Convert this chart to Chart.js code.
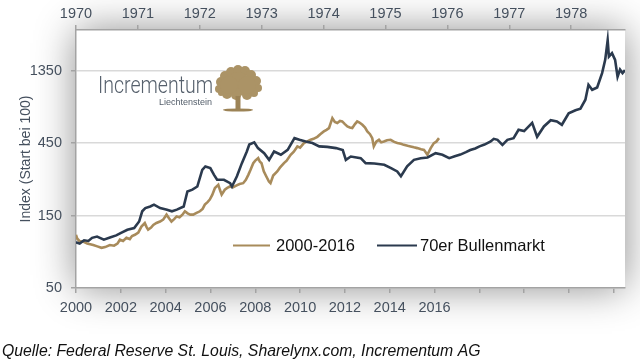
<!DOCTYPE html>
<html>
<head>
<meta charset="utf-8">
<script src="https://cdn.jsdelivr.net/npm/chart.js@4.4.1/dist/chart.umd.min.js"></script>
<style>
html, body { margin: 0; padding: 0; background: #fff; }
#wrap { width: 640px; height: 360px; }
</style>
</head>
<body>
<div id="wrap"><canvas id="chart" width="640" height="360"></canvas></div>
<script>
// Gold 2000-2016 (bottom axis, index start = 100)
const goldYears = [
  2000.00, 2000.05, 2000.15, 2000.32, 2000.50, 2000.77, 2000.95, 2001.14, 2001.30, 2001.51,
  2001.70, 2001.85, 2001.96, 2002.10, 2002.25, 2002.40, 2002.50, 2002.63, 2002.78, 2002.92,
  2003.07, 2003.15, 2003.22, 2003.35, 2003.45, 2003.59, 2003.75, 2003.89, 2004.04, 2004.15,
  2004.26, 2004.38, 2004.49, 2004.62, 2004.75, 2004.86, 2004.98, 2005.10, 2005.23, 2005.38,
  2005.53, 2005.65, 2005.75, 2005.87, 2005.97, 2006.08, 2006.20, 2006.35, 2006.43, 2006.50,
  2006.64, 2006.75, 2006.87, 2007.00, 2007.17, 2007.30, 2007.46, 2007.58, 2007.69, 2007.79,
  2007.91, 2008.00, 2008.13, 2008.20, 2008.28, 2008.38, 2008.50, 2008.61, 2008.68, 2008.80,
  2008.98, 2009.10, 2009.28, 2009.40, 2009.58, 2009.72, 2009.88, 2010.00, 2010.17, 2010.30,
  2010.47, 2010.60, 2010.77, 2010.90, 2011.06, 2011.18, 2011.29, 2011.44, 2011.55, 2011.66,
  2011.78, 2011.88, 2012.00, 2012.11, 2012.22, 2012.33, 2012.45, 2012.55, 2012.65, 2012.78,
  2012.90, 2013.00, 2013.12, 2013.22, 2013.29, 2013.40, 2013.52, 2013.62, 2013.74, 2013.88,
  2014.04, 2014.20, 2014.34, 2014.50, 2014.63, 2014.80, 2014.93, 2015.08, 2015.23, 2015.40,
  2015.53, 2015.68, 2015.83, 2015.97, 2016.08, 2016.20
];
const goldValues = [
  112, 106, 102, 101, 98, 96, 94, 92, 93, 96,
  95, 98, 104, 102, 107, 105, 110, 112, 116, 127,
  134, 126, 121, 125, 130, 134, 137, 141, 152, 144,
  137, 142, 148, 146, 152, 160, 155, 152, 152, 156,
  160, 166, 177, 184, 191, 205, 228, 239, 220, 206,
  222, 228, 233, 230, 237, 242, 245, 258, 278, 300,
  332, 345, 358, 340, 332, 293, 270, 251, 245, 275,
  293, 310, 332, 345, 377, 395, 428, 420, 450, 460,
  473, 480, 495, 515, 537, 550, 565, 657, 620, 611,
  630, 625, 600, 579, 570, 565, 600, 625, 615, 594,
  570, 537, 515, 485, 428, 460, 473, 455, 461, 470,
  473, 458, 450, 445, 438, 432, 428, 422, 417, 410,
  406, 377, 417, 450, 460, 485
];

// 70er Bullenmarkt (top axis, index start = 100)
const bullYears = [
  1970.00, 1970.06, 1970.13, 1970.20, 1970.26, 1970.34, 1970.45, 1970.56, 1970.65, 1970.72,
  1970.83, 1970.94, 1971.02, 1971.07, 1971.12, 1971.20, 1971.26, 1971.36, 1971.47, 1971.55,
  1971.63, 1971.74, 1971.80, 1971.88, 1971.96, 1972.04, 1972.09, 1972.17, 1972.23, 1972.28,
  1972.39, 1972.49, 1972.52, 1972.60, 1972.68, 1972.76, 1972.80, 1972.88, 1972.94, 1973.04,
  1973.12, 1973.20, 1973.31, 1973.42, 1973.53, 1973.61, 1973.71, 1973.82, 1973.93, 1974.06,
  1974.20, 1974.31, 1974.36, 1974.44, 1974.60, 1974.68, 1974.82, 1974.98, 1975.09, 1975.19,
  1975.25, 1975.35, 1975.46, 1975.57, 1975.68, 1975.81, 1975.92, 1976.03, 1976.12, 1976.21,
  1976.30, 1976.37, 1976.45, 1976.52, 1976.60, 1976.70, 1976.75, 1976.81, 1976.89, 1976.97,
  1977.07, 1977.15, 1977.24, 1977.37, 1977.45, 1977.56, 1977.67, 1977.77, 1977.85, 1977.96,
  1978.07, 1978.15, 1978.23, 1978.28, 1978.34, 1978.42, 1978.50, 1978.55, 1978.59, 1978.61,
  1978.66, 1978.71, 1978.75, 1978.79, 1978.83, 1978.87
];
const bullValues = [
  100, 98, 103, 102, 107, 109, 104, 108, 111, 115,
  121, 124, 137, 160, 168, 172, 177, 168, 164, 160,
  164, 172, 216, 222, 233, 300, 316, 308, 278, 258,
  258, 245, 233, 272, 332, 396, 440, 455, 417, 386,
  349, 396, 377, 406, 485, 473, 461, 450, 428, 425,
  417, 405, 349, 367, 358, 332, 330, 324, 308, 293,
  272, 316, 349, 358, 362, 386, 377, 358, 368, 378,
  392, 405, 415, 428, 440, 461, 480, 473, 438, 473,
  485, 551, 540, 611, 495, 579, 637, 625, 594, 707,
  741, 759, 869, 1090, 1010, 1045, 1300, 1590, 2140, 1670,
  1760, 1590, 1230, 1370, 1300, 1360
];

const seriesLabels = ['2000-2016', '70er Bullenmarkt'];
const seriesColors = ['#a88b5b', '#2b3a4e'];

const bottomTickYears = [2000, 2002, 2004, 2006, 2008, 2010, 2012, 2014, 2016, 2018, 2020, 2022, 2024];
const bottomTickLabels = ['2000', '2002', '2004', '2006', '2008', '2010', '2012', '2014', '2016', '', '', '', ''];
const topTickYears = [1970, 1971, 1972, 1973, 1974, 1975, 1976, 1977, 1978];
const yTicks = [50, 150, 450, 1350];

const labelColor = '#45505e';
const axisColor = '#a3a3a3';

function toPoints(xs, ys) {
  return xs.map((x, i) => ({ x: x, y: ys[i] }));
}

// Shadowed white plot box
const backdrop = {
  id: 'backdrop',
  beforeDraw(chart) {
    const { ctx, chartArea: a } = chart;
    ctx.save();
    ctx.shadowColor = 'rgba(0,0,0,0.45)';
    ctx.shadowBlur = 38;
    ctx.fillStyle = '#fff';
    ctx.fillRect(a.left, a.top, a.right - a.left, a.bottom - a.top);
    ctx.restore();
  }
};

// Logo, legend, source line
const extras = {
  id: 'extras',
  afterDraw(chart) {
    const ctx = chart.ctx;
    ctx.save();

    // logo text
    ctx.fillStyle = '#56606c';
    ctx.textBaseline = 'alphabetic';
    ctx.font = '300 23px Roboto, "Liberation Sans Narrow", sans-serif';
    const w = ctx.measureText('Incrementum').width;
    ctx.save();
    ctx.translate(98, 93);
    ctx.scale(115 / w, 1);
    ctx.fillText('Incrementum', 0, 0);
    ctx.restore();
    ctx.font = '9px "Liberation Sans", Arial, sans-serif';
    ctx.textAlign = 'right';
    ctx.fillText('Liechtenstein', 212, 105);
    ctx.textAlign = 'left';

    // tree
    ctx.fillStyle = '#ab9366';
    const cx = 238, cy = 84;
    const blobs = [[-19, 5, 4], [-17, -2, 5], [-13, -8, 5], [-7, -12, 5], [0, -14, 5], [7, -13, 5], [13, -9, 5],
      [18, -3, 5], [20, 4, 4], [16, 9, 4], [9, 11, 5], [-2, 11, 5], [-11, 10, 5], [-17, 9, 3], [0, 0, 12], [-9, 1, 9], [9, 1, 9]];
    blobs.forEach(b => {
      ctx.beginPath();
      ctx.arc(cx + b[0], cy + b[1], b[2], 0, Math.PI * 2);
      ctx.fill();
    });
    ctx.fillStyle = '#9c8356';
    ctx.beginPath();
    ctx.moveTo(235.5, 96);
    ctx.lineTo(240.5, 96);
    ctx.lineTo(240.5, 109);
    ctx.lineTo(235.5, 109);
    ctx.closePath();
    ctx.fill();
    ctx.beginPath();
    ctx.ellipse(238, 110, 15, 1.6, 0, 0, Math.PI * 2);
    ctx.fill();

    // legend
    const legendItems = [
      { x: 233, len: 37, gap: 6 },
      { x: 377, len: 40, gap: 3 }
    ];
    ctx.font = '16.5px "Liberation Sans", Arial, sans-serif';
    ctx.textBaseline = 'middle';
    chart.data.datasets.forEach((ds, i) => {
      const it = legendItems[i];
      const y = 245.5;
      ctx.strokeStyle = ds.borderColor;
      ctx.lineWidth = 2;
      ctx.beginPath();
      ctx.moveTo(it.x, y);
      ctx.lineTo(it.x + it.len, y);
      ctx.stroke();
      ctx.fillStyle = '#111';
      ctx.fillText(ds.label, it.x + it.len + it.gap, y + 1);
    });

    // source
    ctx.textBaseline = 'alphabetic';
    ctx.font = 'italic 15.8px "Liberation Sans", Arial, sans-serif';
    ctx.fillStyle = '#111';
    ctx.fillText('Quelle: Federal Reserve St. Louis, Sharelynx.com, Incrementum AG', 2, 356);

    ctx.restore();
  }
};

const tickFont = { family: '"Liberation Sans", Arial, sans-serif', size: 14.5 };

new Chart(document.getElementById('chart'), {
  type: 'line',
  data: {
    datasets: [
      {
        label: seriesLabels[0],
        data: toPoints(goldYears, goldValues),
        xAxisID: 'x',
        borderColor: seriesColors[0],
        borderWidth: 2.6,
        pointRadius: 0,
        order: 1
      },
      {
        label: seriesLabels[1],
        data: toPoints(bullYears, bullValues),
        xAxisID: 'x2',
        borderColor: seriesColors[1],
        borderWidth: 2.6,
        pointRadius: 0,
        order: 0
      }
    ]
  },
  options: {
    responsive: false,
    animation: false,
    parsing: false,
    layout: { padding: { left: 0, right: 15, top: 0, bottom: 0 } },
    plugins: {
      legend: { display: false },
      tooltip: { enabled: false }
    },
    scales: {
      x: {
        type: 'linear',
        position: 'bottom',
        min: 2000,
        max: 2024.5,
        afterBuildTicks: s => { s.ticks = bottomTickYears.map(v => ({ value: v })); },
        afterFit: s => { s.height = 72; },
        ticks: {
          color: labelColor,
          font: tickFont,
          padding: 6,
          maxRotation: 0,
          autoSkip: false,
          callback: (v, i) => bottomTickLabels[i]
        },
        grid: { drawOnChartArea: false, tickLength: 5, color: axisColor, lineWidth: 1.5 },
        border: { color: axisColor, width: 1.5 }
      },
      x2: {
        type: 'linear',
        position: 'top',
        min: 1970,
        max: 1978.87,
        afterBuildTicks: s => { s.ticks = topTickYears.map(v => ({ value: v })); },
        afterFit: s => { s.height = 30; },
        ticks: {
          color: labelColor,
          font: tickFont,
          padding: 2,
          maxRotation: 0,
          autoSkip: false,
          callback: v => String(v)
        },
        grid: { drawOnChartArea: false, tickLength: 5, color: axisColor, lineWidth: 1.5 },
        border: { color: axisColor, width: 1.5 }
      },
      y: {
        type: 'logarithmic',
        position: 'left',
        min: 50,
        max: 2500,
        afterBuildTicks: s => { s.ticks = yTicks.map(v => ({ value: v })); },
        afterFit: s => { s.width = 76; },
        ticks: {
          color: labelColor,
          font: tickFont,
          padding: 9,
          callback: v => String(v)
        },
        title: {
          display: true,
          text: 'Index (Start bei 100)',
          color: labelColor,
          font: { family: '"Liberation Sans", Arial, sans-serif', size: 14 },
          padding: { top: 18, bottom: 0 }
        },
        grid: { color: '#d9d9d9', lineWidth: 1.5, tickLength: 5, tickColor: axisColor },
        border: { color: axisColor, width: 1.5 }
      }
    }
  },
  plugins: [backdrop, extras]
});
</script>
</body>
</html>
